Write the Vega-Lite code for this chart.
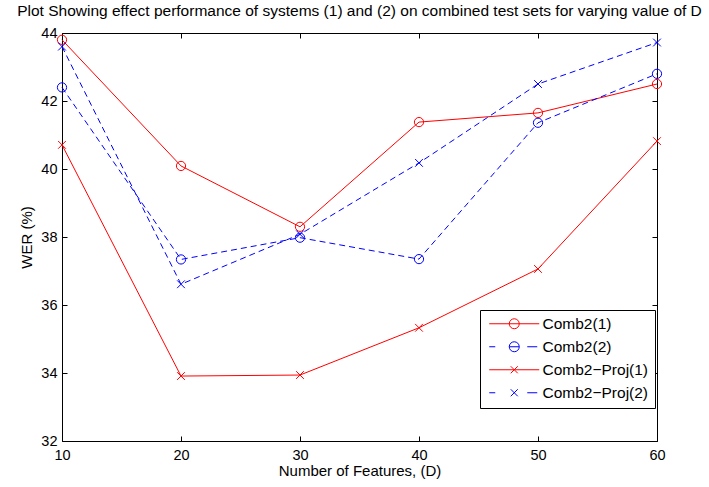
{
  "$schema": "https://vega.github.io/schema/vega-lite/v6.json",
  "autosize": {"type": "none"},
  "padding": {"left": 62, "top": 33, "right": 52, "bottom": 46},
  "width": 595,
  "height": 408,
  "background": "white",
  "title": {
    "text": "Plot Showing effect performance of systems (1) and (2) on combined test sets for varying value of D",
    "font": "Liberation Sans",
    "fontSize": 15.5,
    "fontWeight": "normal",
    "color": "black",
    "anchor": "middle",
    "offset": 6
  },
  "config": {
    "view": {"stroke": "black", "strokeWidth": 1},
    "axis": {
      "labelFont": "Liberation Sans",
      "labelFontSize": 14.5,
      "labelColor": "black",
      "labelFlush": false,
      "labelOverlap": false,
      "titleFont": "Liberation Sans",
      "titleFontSize": 15,
      "titleFontWeight": "normal",
      "titleColor": "black",
      "domainColor": "black",
      "tickColor": "black",
      "grid": false,
      "tickSize": -5
    }
  },
  "data": {
    "values": [
      {"D": 10, "WER": 43.80, "series": "Comb2(1)"},
      {"D": 20, "WER": 40.09, "series": "Comb2(1)"},
      {"D": 30, "WER": 38.30, "series": "Comb2(1)"},
      {"D": 40, "WER": 41.38, "series": "Comb2(1)"},
      {"D": 50, "WER": 41.65, "series": "Comb2(1)"},
      {"D": 60, "WER": 42.50, "series": "Comb2(1)"},
      {"D": 10, "WER": 42.40, "series": "Comb2(2)"},
      {"D": 20, "WER": 37.34, "series": "Comb2(2)"},
      {"D": 30, "WER": 37.98, "series": "Comb2(2)"},
      {"D": 40, "WER": 37.35, "series": "Comb2(2)"},
      {"D": 50, "WER": 41.36, "series": "Comb2(2)"},
      {"D": 60, "WER": 42.80, "series": "Comb2(2)"},
      {"D": 10, "WER": 40.71, "series": "Comb2−Proj(1)"},
      {"D": 20, "WER": 33.91, "series": "Comb2−Proj(1)"},
      {"D": 30, "WER": 33.94, "series": "Comb2−Proj(1)"},
      {"D": 40, "WER": 35.33, "series": "Comb2−Proj(1)"},
      {"D": 50, "WER": 37.06, "series": "Comb2−Proj(1)"},
      {"D": 60, "WER": 40.82, "series": "Comb2−Proj(1)"},
      {"D": 10, "WER": 43.60, "series": "Comb2−Proj(2)"},
      {"D": 20, "WER": 36.61, "series": "Comb2−Proj(2)"},
      {"D": 30, "WER": 38.08, "series": "Comb2−Proj(2)"},
      {"D": 40, "WER": 40.18, "series": "Comb2−Proj(2)"},
      {"D": 50, "WER": 42.50, "series": "Comb2−Proj(2)"},
      {"D": 60, "WER": 43.72, "series": "Comb2−Proj(2)"}
    ]
  },
  "layer": [
    {
      "transform": [{"filter": {"field": "series", "oneOf": ["Comb2(1)", "Comb2−Proj(1)"]}}],
      "mark": {"type": "line", "strokeWidth": 1, "clip": false},
      "encoding": {
        "x": {"field": "D", "type": "quantitative", "scale": {"domain": [10, 60], "nice": false, "zero": false},
              "axis": {"orient": "bottom", "values": [10, 20, 30, 40, 50, 60], "title": "Number of Features, (D)", "labelPadding": 12, "titlePadding": 2, "domain": false}},
        "y": {"field": "WER", "type": "quantitative", "scale": {"domain": [32, 44], "nice": false, "zero": false},
              "axis": {"orient": "left", "values": [32, 34, 36, 38, 40, 42, 44], "title": "WER (%)", "labelPadding": 10, "titlePadding": 6, "domain": false}},
        "color": {"field": "series", "type": "nominal",
                  "scale": {"domain": ["Comb2(1)", "Comb2(2)", "Comb2−Proj(1)", "Comb2−Proj(2)"], "range": ["#ff0000", "#0000ff", "#ff0000", "#0000ff"]}}
      }
    },
    {
      "transform": [{"filter": {"field": "series", "oneOf": ["Comb2(2)", "Comb2−Proj(2)"]}}],
      "mark": {"type": "line", "strokeWidth": 1, "strokeDash": [6, 4], "clip": false},
      "encoding": {
        "x": {"field": "D", "type": "quantitative", "axis": null},
        "y": {"field": "WER", "type": "quantitative", "axis": null},
        "color": {"field": "series", "type": "nominal"}
      }
    },
    {
      "transform": [{"filter": {"field": "series", "oneOf": ["Comb2(1)", "Comb2(2)"]}}],
      "mark": {"type": "point", "shape": "circle", "size": 85, "filled": false, "strokeWidth": 1, "opacity": 1, "clip": false},
      "encoding": {
        "x": {"field": "D", "type": "quantitative",
              "axis": {"orient": "top", "values": [10, 20, 30, 40, 50, 60], "labels": false, "title": null, "domain": false}},
        "y": {"field": "WER", "type": "quantitative",
              "axis": {"orient": "right", "values": [32, 34, 36, 38, 40, 42, 44], "labels": false, "title": null, "domain": false}},
        "color": {"field": "series", "type": "nominal"}
      }
    },
    {
      "transform": [{"filter": {"field": "series", "oneOf": ["Comb2−Proj(1)", "Comb2−Proj(2)"]}}],
      "mark": {"type": "point", "shape": "M-1,-1L1,1M1,-1L-1,1", "size": 60, "filled": false, "strokeWidth": 1, "opacity": 1, "clip": false},
      "encoding": {
        "x": {"field": "D", "type": "quantitative", "axis": null},
        "y": {"field": "WER", "type": "quantitative", "axis": null},
        "color": {"field": "series", "type": "nominal"}
      }
    },
    {
      "transform": [{"filter": "false"}],
      "mark": {"type": "point", "filled": false, "strokeWidth": 1},
      "encoding": {
        "x": {"field": "D", "type": "quantitative", "axis": null},
        "y": {"field": "WER", "type": "quantitative", "axis": null},
        "color": {"field": "series", "type": "nominal",
                  "legend": {"title": null, "orient": "none", "legendX": 418, "legendY": 277,
                             "strokeColor": "black", "fillColor": "white", "padding": 6,
                             "symbolSize": 100, "symbolStrokeWidth": 1, "symbolOpacity": 1,
                             "labelOffset": 41, "labelFont": "Liberation Sans", "labelFontSize": 15.5, "labelColor": "black",
                             "rowPadding": 6, "labelLimit": 300}},
        "shape": {"field": "series", "type": "nominal",
                  "scale": {"domain": ["Comb2(1)", "Comb2(2)", "Comb2−Proj(1)", "Comb2−Proj(2)"],
                            "range": [
                              "M-0.9,0H9.1M5.1,0A1,1 0 1,1 3.1,0A1,1 0 1,1 5.1,0",
                              "M-0.9,0H0.3M3.1,0H5.1M6.7,0H8.7M5.1,0A1,1 0 1,1 3.1,0A1,1 0 1,1 5.1,0",
                              "M-0.9,0H9.1M3.4,-0.7L4.8,0.7M4.8,-0.7L3.4,0.7",
                              "M-0.9,0H0.3M6.7,0H8.7M3.4,-0.7L4.8,0.7M4.8,-0.7L3.4,0.7"
                            ]},
                  "legend": {"title": null, "orient": "none", "legendX": 418, "legendY": 277,
                             "strokeColor": "black", "fillColor": "white", "padding": 6,
                             "symbolSize": 100, "symbolStrokeWidth": 1, "symbolOpacity": 1,
                             "labelOffset": 41, "labelFont": "Liberation Sans", "labelFontSize": 15.5, "labelColor": "black",
                             "rowPadding": 6, "labelLimit": 300}}
      }
    }
  ],
  "resolve": {"axis": {"x": "independent", "y": "independent"}}
}
